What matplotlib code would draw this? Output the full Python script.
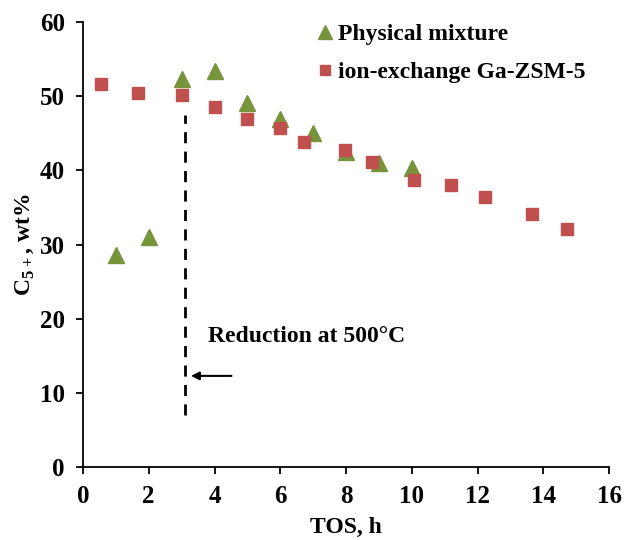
import matplotlib
matplotlib.use("Agg")
import matplotlib.pyplot as plt

# time on stream (h) and C5+ yield (wt%)
tos_phys = [1.0, 2.0, 3.0, 4.0, 5.0, 6.0, 7.0, 8.0, 9.0, 10.0]
c5_phys = [28.6, 31.0, 52.4, 53.4, 49.1, 46.9, 45.0, 42.5, 41.0, 40.3]

tos_ion = [0.55, 1.67, 3.0, 4.0, 5.0, 6.0, 6.72, 7.96, 8.78, 10.06, 11.19, 12.22, 13.65, 14.71]
c5_ion = [51.7, 50.4, 50.2, 48.5, 47.0, 45.7, 43.9, 42.7, 41.2, 38.7, 38.1, 36.4, 34.1, 32.1]

plt.rcParams['font.family'] = ['Liberation Serif', 'DejaVu Serif']
plt.rcParams['font.weight'] = 'bold'
plt.rcParams['mathtext.fontset'] = 'custom'
plt.rcParams['mathtext.rm'] = 'Liberation Serif:bold'
plt.rcParams['mathtext.bf'] = 'Liberation Serif:bold'

fig = plt.figure(figsize=(6.24, 5.4), dpi=100)
ax = fig.add_axes([0.133, 0.135, 0.843, 0.824])

ax.plot(tos_phys, c5_phys, linestyle='none', marker='^', markersize=12,
        color='#77933C', label='Physical mixture')
ax.plot(tos_ion, c5_ion, linestyle='none', marker='s', markersize=8.5,
        color='#C0504D', label='ion-exchange Ga-ZSM-5')

# reduction marker
ax.plot([3.1, 3.1], [7, 47.5], color='black', linestyle=(0, (4, 3)), linewidth=2)
ax.annotate('', xy=(3.2, 12.3), xytext=(4.6, 12.3),
            arrowprops=dict(arrowstyle='-|>', color='black', lw=1.5, mutation_scale=12))
ax.text(3.8, 17.6, 'Reduction at 500°C', fontsize=17, fontweight='bold', va='center')

ax.set_xlim(0, 16)
ax.set_ylim(0, 60)
ax.set_xticks(range(0, 17, 2))
ax.set_yticks(range(0, 61, 10))
ax.tick_params(labelsize=18, width=1.3, length=5, direction='out', pad=8)
for s in ['top', 'right']:
    ax.spines[s].set_visible(False)
for s in ['left', 'bottom']:
    ax.spines[s].set_linewidth(1.3)

ax.set_xlabel('TOS, h', fontsize=17, fontweight='bold', labelpad=6)
ax.set_ylabel('C$_{5+}$, wt%', fontsize=17, fontweight='bold', labelpad=3)

ax.legend(loc='upper left', bbox_to_anchor=(0.398, 1.045), frameon=False,
          fontsize=17, handletextpad=0.05, labelspacing=0.7, markerscale=0.85,
          handlelength=1.0)

fig.savefig('out.png', dpi=100)
